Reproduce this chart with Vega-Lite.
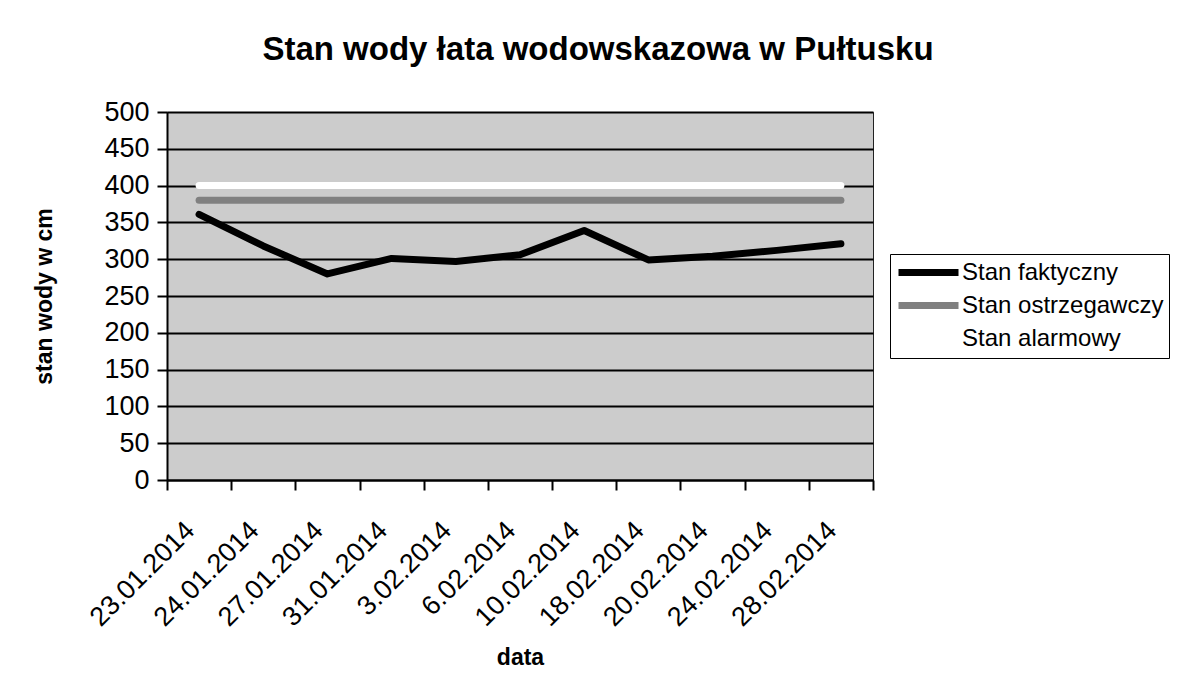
{
  "$schema": "https://vega.github.io/schema/vega-lite/v6.json",
  "autosize": {"type": "none"},
  "width": 706,
  "height": 368,
  "padding": {"left": 167, "top": 112, "right": 315, "bottom": 219},
  "background": "#ffffff",
  "title": {
    "text": "Stan wody łata wodowskazowa w Pułtusku",
    "font": "Liberation Sans",
    "fontSize": 33,
    "fontWeight": "bold",
    "color": "#000000",
    "anchor": "middle",
    "dx": 78,
    "offset": 31
  },
  "data": {
    "values": [
      {"data": "23.01.2014", "seria": "Stan faktyczny", "wartosc": 361},
      {"data": "24.01.2014", "seria": "Stan faktyczny", "wartosc": 318},
      {"data": "27.01.2014", "seria": "Stan faktyczny", "wartosc": 280},
      {"data": "31.01.2014", "seria": "Stan faktyczny", "wartosc": 301},
      {"data": "3.02.2014", "seria": "Stan faktyczny", "wartosc": 297},
      {"data": "6.02.2014", "seria": "Stan faktyczny", "wartosc": 306},
      {"data": "10.02.2014", "seria": "Stan faktyczny", "wartosc": 339},
      {"data": "18.02.2014", "seria": "Stan faktyczny", "wartosc": 299},
      {"data": "20.02.2014", "seria": "Stan faktyczny", "wartosc": 304},
      {"data": "24.02.2014", "seria": "Stan faktyczny", "wartosc": 312},
      {"data": "28.02.2014", "seria": "Stan faktyczny", "wartosc": 321},
      {"data": "23.01.2014", "seria": "Stan ostrzegawczy", "wartosc": 380},
      {"data": "24.01.2014", "seria": "Stan ostrzegawczy", "wartosc": 380},
      {"data": "27.01.2014", "seria": "Stan ostrzegawczy", "wartosc": 380},
      {"data": "31.01.2014", "seria": "Stan ostrzegawczy", "wartosc": 380},
      {"data": "3.02.2014", "seria": "Stan ostrzegawczy", "wartosc": 380},
      {"data": "6.02.2014", "seria": "Stan ostrzegawczy", "wartosc": 380},
      {"data": "10.02.2014", "seria": "Stan ostrzegawczy", "wartosc": 380},
      {"data": "18.02.2014", "seria": "Stan ostrzegawczy", "wartosc": 380},
      {"data": "20.02.2014", "seria": "Stan ostrzegawczy", "wartosc": 380},
      {"data": "24.02.2014", "seria": "Stan ostrzegawczy", "wartosc": 380},
      {"data": "28.02.2014", "seria": "Stan ostrzegawczy", "wartosc": 380},
      {"data": "23.01.2014", "seria": "Stan alarmowy", "wartosc": 400},
      {"data": "24.01.2014", "seria": "Stan alarmowy", "wartosc": 400},
      {"data": "27.01.2014", "seria": "Stan alarmowy", "wartosc": 400},
      {"data": "31.01.2014", "seria": "Stan alarmowy", "wartosc": 400},
      {"data": "3.02.2014", "seria": "Stan alarmowy", "wartosc": 400},
      {"data": "6.02.2014", "seria": "Stan alarmowy", "wartosc": 400},
      {"data": "10.02.2014", "seria": "Stan alarmowy", "wartosc": 400},
      {"data": "18.02.2014", "seria": "Stan alarmowy", "wartosc": 400},
      {"data": "20.02.2014", "seria": "Stan alarmowy", "wartosc": 400},
      {"data": "24.02.2014", "seria": "Stan alarmowy", "wartosc": 400},
      {"data": "28.02.2014", "seria": "Stan alarmowy", "wartosc": 400}
    ]
  },
  "mark": {"type": "line", "strokeCap": "round", "strokeJoin": "round"},
  "encoding": {
    "x": {
      "field": "data",
      "type": "ordinal",
      "sort": null,
      "scale": {"type": "band", "paddingInner": 0, "paddingOuter": 0},
      "axis": {
        "title": "data",
        "tickBand": "extent",
        "labelAngle": -45,
        "labelAlign": "right",
        "labelBaseline": "middle",
        "labelOffset": -9,
        "labelPadding": 36,
        "labelFontSize": 27,
        "titlePadding": 16
      }
    },
    "y": {
      "field": "wartosc",
      "type": "quantitative",
      "scale": {"domain": [0, 500], "nice": false},
      "axis": {
        "title": "stan wody w cm",
        "values": [0, 50, 100, 150, 200, 250, 300, 350, 400, 450, 500],
        "grid": true,
        "labelFontSize": 27,
        "labelPadding": 8,
        "titlePadding": 47
      }
    },
    "color": {
      "field": "seria",
      "type": "nominal",
      "title": null,
      "scale": {
        "domain": ["Stan faktyczny", "Stan ostrzegawczy", "Stan alarmowy"],
        "range": ["#000000", "#808080", "#ffffff"]
      },
      "legend": {
        "orient": "none",
        "legendX": 723,
        "legendY": 142,
        "symbolType": "M-1,0H5",
        "symbolSize": 400,
        "symbolStrokeWidth": 7,
        "labelFontSize": 24,
        "labelFont": "Liberation Sans",
        "labelColor": "#000000",
        "labelLimit": 400,
        "labelOffset": 40,
        "rowPadding": 4,
        "padding": 5,
        "strokeColor": "#000000",
        "fillColor": "#ffffff"
      }
    },
    "strokeWidth": {
      "field": "seria",
      "type": "nominal",
      "title": null,
      "scale": {
        "domain": ["Stan faktyczny", "Stan ostrzegawczy", "Stan alarmowy"],
        "range": [7, 7, 8]
      },
      "legend": null
    }
  },
  "config": {
    "font": "Liberation Sans",
    "view": {"fill": "#cccccc", "stroke": "#222222", "strokeWidth": 1},
    "axis": {
      "labelColor": "#000000",
      "labelFont": "Liberation Sans",
      "titleColor": "#000000",
      "titleFont": "Liberation Sans",
      "titleFontSize": 23,
      "titleFontWeight": "bold",
      "domainColor": "#000000",
      "domainWidth": 2,
      "tickColor": "#000000",
      "tickWidth": 2,
      "tickSize": 10,
      "gridColor": "#000000",
      "gridWidth": 2,
      "gridOpacity": 1
    }
  }
}
